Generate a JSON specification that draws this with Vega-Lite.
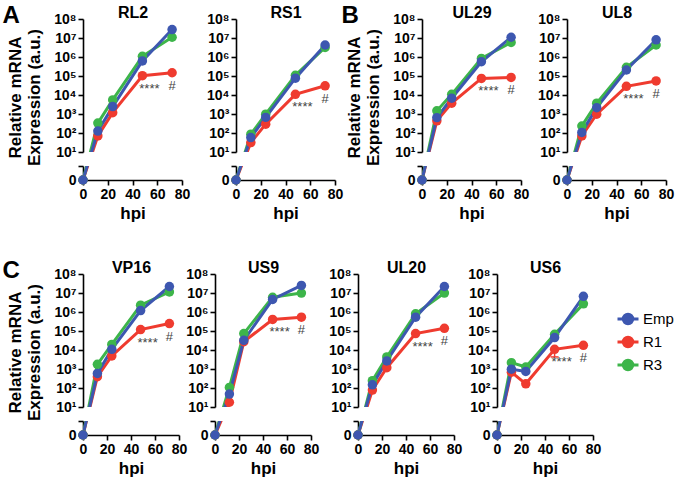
{
  "$schema": "https://vega.github.io/schema/vega-lite/v6.json",
  "padding": {"left": 2, "top": 4, "right": 2, "bottom": 2},
  "config": {
    "font": "Liberation Sans, Arial, sans-serif",
    "view": {"stroke": null},
    "axis": {"labelFontWeight": "bold", "labelFontSize": 14, "labelColor": "#000", "titleFontWeight": "bold", "titleFontSize": 17, "titleColor": "#000", "domainColor": "#000", "domainWidth": 1.6, "tickColor": "#000", "tickWidth": 1.6, "tickSize": 5, "labelPadding": 2, "grid": false, "labelFlush": false, "labelOverlap": false},
    "title": {"fontSize": 24, "fontWeight": "bold", "color": "#000"}
  },
  "resolve": {"legend": {"color": "independent"}},
  "datasets": {
    "d": [
      {"g":"RL2","s":"R1","h":0,"v":0},{"g":"RL2","s":"R1","h":12,"v":72},{"g":"RL2","s":"R1","h":24,"v":1200},{"g":"RL2","s":"R1","h":48,"v":105000,"sig":"****"},{"g":"RL2","s":"R1","h":72,"v":150000,"sig":"#"},
      {"g":"RL2","s":"R3","h":0,"v":0},{"g":"RL2","s":"R3","h":12,"v":340},{"g":"RL2","s":"R3","h":24,"v":5600},{"g":"RL2","s":"R3","h":48,"v":1100000},{"g":"RL2","s":"R3","h":72,"v":11000000},
      {"g":"RL2","s":"Emp","h":0,"v":0},{"g":"RL2","s":"Emp","h":12,"v":130},{"g":"RL2","s":"Emp","h":24,"v":2500},{"g":"RL2","s":"Emp","h":48,"v":630000},{"g":"RL2","s":"Emp","h":72,"v":28000000},
      {"g":"RS1","s":"R1","h":0,"v":0},{"g":"RS1","s":"R1","h":12,"v":32},{"g":"RS1","s":"R1","h":24,"v":300},{"g":"RS1","s":"R1","h":48,"v":11000,"sig":"****"},{"g":"RS1","s":"R1","h":72,"v":31000,"sig":"#"},
      {"g":"RS1","s":"R3","h":0,"v":0},{"g":"RS1","s":"R3","h":12,"v":89},{"g":"RS1","s":"R3","h":24,"v":1000},{"g":"RS1","s":"R3","h":48,"v":110000},{"g":"RS1","s":"R3","h":72,"v":3200000},
      {"g":"RS1","s":"Emp","h":0,"v":0},{"g":"RS1","s":"Emp","h":12,"v":59},{"g":"RS1","s":"Emp","h":24,"v":680},{"g":"RS1","s":"Emp","h":48,"v":78000},{"g":"RS1","s":"Emp","h":72,"v":4300000},
      {"g":"UL29","s":"R1","h":0,"v":0},{"g":"UL29","s":"R1","h":12,"v":450},{"g":"UL29","s":"R1","h":24,"v":3800},{"g":"UL29","s":"R1","h":48,"v":76000,"sig":"****"},{"g":"UL29","s":"R1","h":72,"v":85000,"sig":"#"},
      {"g":"UL29","s":"R3","h":0,"v":0},{"g":"UL29","s":"R3","h":12,"v":1500},{"g":"UL29","s":"R3","h":24,"v":11000},{"g":"UL29","s":"R3","h":48,"v":850000},{"g":"UL29","s":"R3","h":72,"v":5900000},
      {"g":"UL29","s":"Emp","h":0,"v":0},{"g":"UL29","s":"Emp","h":12,"v":660},{"g":"UL29","s":"Emp","h":24,"v":6900},{"g":"UL29","s":"Emp","h":48,"v":570000},{"g":"UL29","s":"Emp","h":72,"v":11000000},
      {"g":"UL8","s":"R1","h":0,"v":0},{"g":"UL8","s":"R1","h":12,"v":72},{"g":"UL8","s":"R1","h":24,"v":1000},{"g":"UL8","s":"R1","h":48,"v":29000,"sig":"****"},{"g":"UL8","s":"R1","h":72,"v":56000,"sig":"#"},
      {"g":"UL8","s":"R3","h":0,"v":0},{"g":"UL8","s":"R3","h":12,"v":240},{"g":"UL8","s":"R3","h":24,"v":3800},{"g":"UL8","s":"R3","h":48,"v":290000},{"g":"UL8","s":"R3","h":72,"v":4300000},
      {"g":"UL8","s":"Emp","h":0,"v":0},{"g":"UL8","s":"Emp","h":12,"v":110},{"g":"UL8","s":"Emp","h":24,"v":2200},{"g":"UL8","s":"Emp","h":48,"v":210000},{"g":"UL8","s":"Emp","h":72,"v":8100000},
      {"g":"VP16","s":"R1","h":0,"v":0},{"g":"VP16","s":"R1","h":12,"v":400},{"g":"VP16","s":"R1","h":24,"v":5000},{"g":"VP16","s":"R1","h":48,"v":120000,"sig":"****"},{"g":"VP16","s":"R1","h":72,"v":250000,"sig":"#"},
      {"g":"VP16","s":"R3","h":0,"v":0},{"g":"VP16","s":"R3","h":12,"v":1800},{"g":"VP16","s":"R3","h":24,"v":20000},{"g":"VP16","s":"R3","h":48,"v":2300000},{"g":"VP16","s":"R3","h":72,"v":11500000},
      {"g":"VP16","s":"Emp","h":0,"v":0},{"g":"VP16","s":"Emp","h":12,"v":600},{"g":"VP16","s":"Emp","h":24,"v":11000},{"g":"VP16","s":"Emp","h":48,"v":1200000},{"g":"VP16","s":"Emp","h":72,"v":22000000},
      {"g":"US9","s":"R1","h":0,"v":0},{"g":"US9","s":"R1","h":12,"v":18},{"g":"US9","s":"R1","h":24,"v":28000},{"g":"US9","s":"R1","h":48,"v":410000,"sig":"****"},{"g":"US9","s":"R1","h":72,"v":540000,"sig":"#"},
      {"g":"US9","s":"R3","h":0,"v":0},{"g":"US9","s":"R3","h":12,"v":110},{"g":"US9","s":"R3","h":24,"v":74000},{"g":"US9","s":"R3","h":48,"v":6000000},{"g":"US9","s":"R3","h":72,"v":10000000},
      {"g":"US9","s":"Emp","h":0,"v":0},{"g":"US9","s":"Emp","h":12,"v":49},{"g":"US9","s":"Emp","h":24,"v":33000},{"g":"US9","s":"Emp","h":48,"v":4600000},{"g":"US9","s":"Emp","h":72,"v":25000000},
      {"g":"UL20","s":"R1","h":0,"v":0},{"g":"UL20","s":"R1","h":12,"v":80},{"g":"UL20","s":"R1","h":24,"v":1200},{"g":"UL20","s":"R1","h":48,"v":74000,"sig":"****"},{"g":"UL20","s":"R1","h":72,"v":140000,"sig":"#"},
      {"g":"UL20","s":"R3","h":0,"v":0},{"g":"UL20","s":"R3","h":12,"v":250},{"g":"UL20","s":"R3","h":24,"v":4400},{"g":"UL20","s":"R3","h":48,"v":810000},{"g":"UL20","s":"R3","h":72,"v":10000000},
      {"g":"UL20","s":"Emp","h":0,"v":0},{"g":"UL20","s":"Emp","h":12,"v":150},{"g":"UL20","s":"Emp","h":24,"v":2700},{"g":"UL20","s":"Emp","h":48,"v":540000},{"g":"UL20","s":"Emp","h":72,"v":22000000},
      {"g":"US6","s":"R1","h":0,"v":0},{"g":"US6","s":"R1","h":12,"v":700},{"g":"US6","s":"R1","h":24,"v":170},{"g":"US6","s":"R1","h":48,"v":11000,"sig":"****","lo":4400},{"g":"US6","s":"R1","h":72,"v":18000,"sig":"#"},
      {"g":"US6","s":"R3","h":0,"v":0},{"g":"US6","s":"R3","h":12,"v":2200},{"g":"US6","s":"R3","h":24,"v":1300},{"g":"US6","s":"R3","h":48,"v":68000},{"g":"US6","s":"R3","h":72,"v":2700000},
      {"g":"US6","s":"Emp","h":0,"v":0},{"g":"US6","s":"Emp","h":12,"v":1000},{"g":"US6","s":"Emp","h":24,"v":760},{"g":"US6","s":"Emp","h":48,"v":46000},{"g":"US6","s":"Emp","h":72,"v":6700000}
    ]
  },
  "vconcat": [
    {
      "spacing": -2,
      "hconcat": [
        {
          "spacing": 16,
          "hconcat": [
            {"bounds": "flush", "spacing": 14, "vconcat": [
              {"width": 99, "height": 133, "title": {"text": "A", "anchor": "start", "frame": "bounds", "offset": -17, "dx": -4, "dy": 26, "baseline": "alphabetic"}, "data": {"name": "d"}, "transform": [{"filter": "datum.g === 'RL2'"}],
               "encoding": {"x": {"field": "h", "type": "quantitative", "scale": {"domain": [0, 80], "nice": false}, "axis": {"orient": "top", "domain": false, "ticks": false, "labels": false, "title": "RL2", "titleFontSize": 16, "titleY": -2, "titleBaseline": "alphabetic", "titlePadding": 0}},
                 "y": {"field": "v", "type": "quantitative", "scale": {"type": "symlog", "constant": 0.33, "domain": [10, 100000000], "nice": false}, "axis": {"values": [10,100,1000,10000,100000,1000000,10000000,100000000], "labelExpr": "'10' + ['¹','²','³','⁴','⁵','⁶','⁷','⁸'][round(log(datum.value)/LN10) - 1]", "title": ["Relative mRNA", "Expression (a.u.)"], "titleFontSize": 17, "titleLineHeight": 19, "titleY": 78, "titlePadding": 10}},
                 "color": {"field": "s", "type": "nominal", "scale": {"domain": ["Emp", "R1", "R3"], "range": ["#3d57b0", "#ef3b2f", "#3db54a"]}, "legend": null}},
               "layer": [
                 {"mark": {"type": "line", "strokeWidth": 3, "clip": true}},
                 {"transform": [{"filter": "datum.h > 0"}], "mark": {"type": "circle", "size": 90, "opacity": 1}},
                 {"transform": [{"filter": "datum.sig === '****'"}], "mark": {"type": "text", "dx": 7, "dy": 13, "fontSize": 13}, "encoding": {"text": {"field": "sig"}, "color": {"value": "#444"}}},
                 {"transform": [{"filter": "datum.sig === '#'"}], "mark": {"type": "text", "dy": 13, "fontSize": 13}, "encoding": {"text": {"field": "sig"}, "color": {"value": "#444"}}}
               ]},
              {"width": 99, "height": 14, "data": {"name": "d"}, "transform": [{"filter": "datum.g === 'RL2'"}],
               "encoding": {"x": {"field": "h", "type": "quantitative", "scale": {"domain": [0, 80], "nice": false}, "axis": {"values": [0,20,40,60,80], "title": "hpi"}},
                 "y": {"field": "v", "type": "quantitative", "scale": {"type": "symlog", "constant": 0.33, "domain": [0, 1.46], "nice": false}, "axis": {"values": [0, 1.46], "labelExpr": "datum.value === 0 ? '0' : ''", "title": null}},
                 "color": {"field": "s", "type": "nominal", "scale": {"domain": ["Emp", "R1", "R3"], "range": ["#3d57b0", "#ef3b2f", "#3db54a"]}, "legend": null}},
               "layer": [
                 {"mark": {"type": "line", "strokeWidth": 3, "clip": true}},
                 {"transform": [{"filter": "datum.h === 0"}], "mark": {"type": "circle", "size": 90, "opacity": 1}}
               ]}
            ]},
            {"bounds": "flush", "spacing": 14, "vconcat": [
              {"width": 99, "height": 133, "data": {"name": "d"}, "transform": [{"filter": "datum.g === 'RS1'"}],
               "encoding": {"x": {"field": "h", "type": "quantitative", "scale": {"domain": [0, 80], "nice": false}, "axis": {"orient": "top", "domain": false, "ticks": false, "labels": false, "title": "RS1", "titleFontSize": 16, "titleY": -2, "titleBaseline": "alphabetic", "titlePadding": 0}},
                 "y": {"field": "v", "type": "quantitative", "scale": {"type": "symlog", "constant": 0.33, "domain": [10, 100000000], "nice": false}, "axis": {"values": [10,100,1000,10000,100000,1000000,10000000,100000000], "labelExpr": "'10' + ['¹','²','³','⁴','⁵','⁶','⁷','⁸'][round(log(datum.value)/LN10) - 1]", "title": null}},
                 "color": {"field": "s", "type": "nominal", "scale": {"domain": ["Emp", "R1", "R3"], "range": ["#3d57b0", "#ef3b2f", "#3db54a"]}, "legend": null}},
               "layer": [
                 {"mark": {"type": "line", "strokeWidth": 3, "clip": true}},
                 {"transform": [{"filter": "datum.h > 0"}], "mark": {"type": "circle", "size": 90, "opacity": 1}},
                 {"transform": [{"filter": "datum.sig === '****'"}], "mark": {"type": "text", "dx": 7, "dy": 13, "fontSize": 13}, "encoding": {"text": {"field": "sig"}, "color": {"value": "#444"}}},
                 {"transform": [{"filter": "datum.sig === '#'"}], "mark": {"type": "text", "dy": 13, "fontSize": 13}, "encoding": {"text": {"field": "sig"}, "color": {"value": "#444"}}}
               ]},
              {"width": 99, "height": 14, "data": {"name": "d"}, "transform": [{"filter": "datum.g === 'RS1'"}],
               "encoding": {"x": {"field": "h", "type": "quantitative", "scale": {"domain": [0, 80], "nice": false}, "axis": {"values": [0,20,40,60,80], "title": "hpi"}},
                 "y": {"field": "v", "type": "quantitative", "scale": {"type": "symlog", "constant": 0.33, "domain": [0, 1.46], "nice": false}, "axis": {"values": [0, 1.46], "labelExpr": "datum.value === 0 ? '0' : ''", "title": null}},
                 "color": {"field": "s", "type": "nominal", "scale": {"domain": ["Emp", "R1", "R3"], "range": ["#3d57b0", "#ef3b2f", "#3db54a"]}, "legend": null}},
               "layer": [
                 {"mark": {"type": "line", "strokeWidth": 3, "clip": true}},
                 {"transform": [{"filter": "datum.h === 0"}], "mark": {"type": "circle", "size": 90, "opacity": 1}}
               ]}
            ]}
          ]
        },
        {
          "spacing": 8,
          "hconcat": [
            {"bounds": "flush", "spacing": 14, "vconcat": [
              {"width": 99, "height": 133, "title": {"text": "B", "anchor": "start", "frame": "bounds", "offset": -17, "dx": -4, "dy": 26, "baseline": "alphabetic"}, "data": {"name": "d"}, "transform": [{"filter": "datum.g === 'UL29'"}],
               "encoding": {"x": {"field": "h", "type": "quantitative", "scale": {"domain": [0, 80], "nice": false}, "axis": {"orient": "top", "domain": false, "ticks": false, "labels": false, "title": "UL29", "titleFontSize": 16, "titleY": -2, "titleBaseline": "alphabetic", "titlePadding": 0}},
                 "y": {"field": "v", "type": "quantitative", "scale": {"type": "symlog", "constant": 0.33, "domain": [10, 100000000], "nice": false}, "axis": {"values": [10,100,1000,10000,100000,1000000,10000000,100000000], "labelExpr": "'10' + ['¹','²','³','⁴','⁵','⁶','⁷','⁸'][round(log(datum.value)/LN10) - 1]", "title": ["Relative mRNA", "Expression (a.u.)"], "titleFontSize": 17, "titleLineHeight": 19, "titleY": 78, "titlePadding": 10}},
                 "color": {"field": "s", "type": "nominal", "scale": {"domain": ["Emp", "R1", "R3"], "range": ["#3d57b0", "#ef3b2f", "#3db54a"]}, "legend": null}},
               "layer": [
                 {"mark": {"type": "line", "strokeWidth": 3, "clip": true}},
                 {"transform": [{"filter": "datum.h > 0"}], "mark": {"type": "circle", "size": 90, "opacity": 1}},
                 {"transform": [{"filter": "datum.sig === '****'"}], "mark": {"type": "text", "dx": 7, "dy": 13, "fontSize": 13}, "encoding": {"text": {"field": "sig"}, "color": {"value": "#444"}}},
                 {"transform": [{"filter": "datum.sig === '#'"}], "mark": {"type": "text", "dy": 13, "fontSize": 13}, "encoding": {"text": {"field": "sig"}, "color": {"value": "#444"}}}
               ]},
              {"width": 99, "height": 14, "data": {"name": "d"}, "transform": [{"filter": "datum.g === 'UL29'"}],
               "encoding": {"x": {"field": "h", "type": "quantitative", "scale": {"domain": [0, 80], "nice": false}, "axis": {"values": [0,20,40,60,80], "title": "hpi"}},
                 "y": {"field": "v", "type": "quantitative", "scale": {"type": "symlog", "constant": 0.33, "domain": [0, 1.46], "nice": false}, "axis": {"values": [0, 1.46], "labelExpr": "datum.value === 0 ? '0' : ''", "title": null}},
                 "color": {"field": "s", "type": "nominal", "scale": {"domain": ["Emp", "R1", "R3"], "range": ["#3d57b0", "#ef3b2f", "#3db54a"]}, "legend": null}},
               "layer": [
                 {"mark": {"type": "line", "strokeWidth": 3, "clip": true}},
                 {"transform": [{"filter": "datum.h === 0"}], "mark": {"type": "circle", "size": 90, "opacity": 1}}
               ]}
            ]},
            {"bounds": "flush", "spacing": 14, "vconcat": [
              {"width": 99, "height": 133, "data": {"name": "d"}, "transform": [{"filter": "datum.g === 'UL8'"}],
               "encoding": {"x": {"field": "h", "type": "quantitative", "scale": {"domain": [0, 80], "nice": false}, "axis": {"orient": "top", "domain": false, "ticks": false, "labels": false, "title": "UL8", "titleFontSize": 16, "titleY": -2, "titleBaseline": "alphabetic", "titlePadding": 0}},
                 "y": {"field": "v", "type": "quantitative", "scale": {"type": "symlog", "constant": 0.33, "domain": [10, 100000000], "nice": false}, "axis": {"values": [10,100,1000,10000,100000,1000000,10000000,100000000], "labelExpr": "'10' + ['¹','²','³','⁴','⁵','⁶','⁷','⁸'][round(log(datum.value)/LN10) - 1]", "title": null}},
                 "color": {"field": "s", "type": "nominal", "scale": {"domain": ["Emp", "R1", "R3"], "range": ["#3d57b0", "#ef3b2f", "#3db54a"]}, "legend": null}},
               "layer": [
                 {"mark": {"type": "line", "strokeWidth": 3, "clip": true}},
                 {"transform": [{"filter": "datum.h > 0"}], "mark": {"type": "circle", "size": 90, "opacity": 1}},
                 {"transform": [{"filter": "datum.sig === '****'"}], "mark": {"type": "text", "dx": 7, "dy": 13, "fontSize": 13}, "encoding": {"text": {"field": "sig"}, "color": {"value": "#444"}}},
                 {"transform": [{"filter": "datum.sig === '#'"}], "mark": {"type": "text", "dy": 13, "fontSize": 13}, "encoding": {"text": {"field": "sig"}, "color": {"value": "#444"}}}
               ]},
              {"width": 99, "height": 14, "data": {"name": "d"}, "transform": [{"filter": "datum.g === 'UL8'"}],
               "encoding": {"x": {"field": "h", "type": "quantitative", "scale": {"domain": [0, 80], "nice": false}, "axis": {"values": [0,20,40,60,80], "title": "hpi"}},
                 "y": {"field": "v", "type": "quantitative", "scale": {"type": "symlog", "constant": 0.33, "domain": [0, 1.46], "nice": false}, "axis": {"values": [0, 1.46], "labelExpr": "datum.value === 0 ? '0' : ''", "title": null}},
                 "color": {"field": "s", "type": "nominal", "scale": {"domain": ["Emp", "R1", "R3"], "range": ["#3d57b0", "#ef3b2f", "#3db54a"]}, "legend": null}},
               "layer": [
                 {"mark": {"type": "line", "strokeWidth": 3, "clip": true}},
                 {"transform": [{"filter": "datum.h === 0"}], "mark": {"type": "circle", "size": 90, "opacity": 1}}
               ]}
            ]}
          ]
        }
      ]
    },
    {
      "spacing": 9,
      "resolve": {"legend": {"color": "independent"}},
      "hconcat": [
        {"spacing": -2, "hconcat": [
          {"bounds": "flush", "spacing": 14, "vconcat": [
            {"width": 96, "height": 133, "title": {"text": "C", "anchor": "start", "frame": "bounds", "offset": -17, "dx": -4, "dy": 26, "baseline": "alphabetic"}, "data": {"name": "d"}, "transform": [{"filter": "datum.g === 'VP16'"}],
             "encoding": {"x": {"field": "h", "type": "quantitative", "scale": {"domain": [0, 80], "nice": false}, "axis": {"orient": "top", "domain": false, "ticks": false, "labels": false, "title": "VP16", "titleFontSize": 16, "titleY": -2, "titleBaseline": "alphabetic", "titlePadding": 0}},
               "y": {"field": "v", "type": "quantitative", "scale": {"type": "symlog", "constant": 0.33, "domain": [10, 100000000], "nice": false}, "axis": {"values": [10,100,1000,10000,100000,1000000,10000000,100000000], "labelExpr": "'10' + ['¹','²','³','⁴','⁵','⁶','⁷','⁸'][round(log(datum.value)/LN10) - 1]", "title": ["Relative mRNA", "Expression (a.u.)"], "titleFontSize": 17, "titleLineHeight": 19, "titleY": 78, "titlePadding": 10}},
               "color": {"field": "s", "type": "nominal", "scale": {"domain": ["Emp", "R1", "R3"], "range": ["#3d57b0", "#ef3b2f", "#3db54a"]}, "legend": null}},
             "layer": [
               {"mark": {"type": "line", "strokeWidth": 3, "clip": true}},
               {"transform": [{"filter": "datum.h > 0"}], "mark": {"type": "circle", "size": 90, "opacity": 1}},
               {"transform": [{"filter": "datum.sig === '****'"}], "mark": {"type": "text", "dx": 7, "dy": 13, "fontSize": 13}, "encoding": {"text": {"field": "sig"}, "color": {"value": "#444"}}},
               {"transform": [{"filter": "datum.sig === '#'"}], "mark": {"type": "text", "dy": 13, "fontSize": 13}, "encoding": {"text": {"field": "sig"}, "color": {"value": "#444"}}}
             ]},
            {"width": 96, "height": 14, "data": {"name": "d"}, "transform": [{"filter": "datum.g === 'VP16'"}],
             "encoding": {"x": {"field": "h", "type": "quantitative", "scale": {"domain": [0, 80], "nice": false}, "axis": {"values": [0,20,40,60,80], "title": "hpi"}},
               "y": {"field": "v", "type": "quantitative", "scale": {"type": "symlog", "constant": 0.33, "domain": [0, 1.46], "nice": false}, "axis": {"values": [0, 1.46], "labelExpr": "datum.value === 0 ? '0' : ''", "title": null}},
               "color": {"field": "s", "type": "nominal", "scale": {"domain": ["Emp", "R1", "R3"], "range": ["#3d57b0", "#ef3b2f", "#3db54a"]}, "legend": null}},
             "layer": [
               {"mark": {"type": "line", "strokeWidth": 3, "clip": true}},
               {"transform": [{"filter": "datum.h === 0"}], "mark": {"type": "circle", "size": 90, "opacity": 1}}
             ]}
          ]},
          {"bounds": "flush", "spacing": 14, "vconcat": [
            {"width": 96, "height": 133, "data": {"name": "d"}, "transform": [{"filter": "datum.g === 'US9'"}],
             "encoding": {"x": {"field": "h", "type": "quantitative", "scale": {"domain": [0, 80], "nice": false}, "axis": {"orient": "top", "domain": false, "ticks": false, "labels": false, "title": "US9", "titleFontSize": 16, "titleY": -2, "titleBaseline": "alphabetic", "titlePadding": 0}},
               "y": {"field": "v", "type": "quantitative", "scale": {"type": "symlog", "constant": 0.33, "domain": [10, 100000000], "nice": false}, "axis": {"values": [10,100,1000,10000,100000,1000000,10000000,100000000], "labelExpr": "'10' + ['¹','²','³','⁴','⁵','⁶','⁷','⁸'][round(log(datum.value)/LN10) - 1]", "title": null}},
               "color": {"field": "s", "type": "nominal", "scale": {"domain": ["Emp", "R1", "R3"], "range": ["#3d57b0", "#ef3b2f", "#3db54a"]}, "legend": null}},
             "layer": [
               {"mark": {"type": "line", "strokeWidth": 3, "clip": true}},
               {"transform": [{"filter": "datum.h > 0"}], "mark": {"type": "circle", "size": 90, "opacity": 1}},
               {"transform": [{"filter": "datum.sig === '****'"}], "mark": {"type": "text", "dx": 7, "dy": 13, "fontSize": 13}, "encoding": {"text": {"field": "sig"}, "color": {"value": "#444"}}},
               {"transform": [{"filter": "datum.sig === '#'"}], "mark": {"type": "text", "dy": 13, "fontSize": 13}, "encoding": {"text": {"field": "sig"}, "color": {"value": "#444"}}}
             ]},
            {"width": 96, "height": 14, "data": {"name": "d"}, "transform": [{"filter": "datum.g === 'US9'"}],
             "encoding": {"x": {"field": "h", "type": "quantitative", "scale": {"domain": [0, 80], "nice": false}, "axis": {"values": [0,20,40,60,80], "title": "hpi"}},
               "y": {"field": "v", "type": "quantitative", "scale": {"type": "symlog", "constant": 0.33, "domain": [0, 1.46], "nice": false}, "axis": {"values": [0, 1.46], "labelExpr": "datum.value === 0 ? '0' : ''", "title": null}},
               "color": {"field": "s", "type": "nominal", "scale": {"domain": ["Emp", "R1", "R3"], "range": ["#3d57b0", "#ef3b2f", "#3db54a"]}, "legend": null}},
             "layer": [
               {"mark": {"type": "line", "strokeWidth": 3, "clip": true}},
               {"transform": [{"filter": "datum.h === 0"}], "mark": {"type": "circle", "size": 90, "opacity": 1}}
             ]}
          ]}
        ]},
        {"spacing": 5, "resolve": {"legend": {"color": "independent"}}, "hconcat": [
          {"bounds": "flush", "spacing": 14, "vconcat": [
            {"width": 96, "height": 133, "data": {"name": "d"}, "transform": [{"filter": "datum.g === 'UL20'"}],
             "encoding": {"x": {"field": "h", "type": "quantitative", "scale": {"domain": [0, 80], "nice": false}, "axis": {"orient": "top", "domain": false, "ticks": false, "labels": false, "title": "UL20", "titleFontSize": 16, "titleY": -2, "titleBaseline": "alphabetic", "titlePadding": 0}},
               "y": {"field": "v", "type": "quantitative", "scale": {"type": "symlog", "constant": 0.33, "domain": [10, 100000000], "nice": false}, "axis": {"values": [10,100,1000,10000,100000,1000000,10000000,100000000], "labelExpr": "'10' + ['¹','²','³','⁴','⁵','⁶','⁷','⁸'][round(log(datum.value)/LN10) - 1]", "title": null}},
               "color": {"field": "s", "type": "nominal", "scale": {"domain": ["Emp", "R1", "R3"], "range": ["#3d57b0", "#ef3b2f", "#3db54a"]}, "legend": null}},
             "layer": [
               {"mark": {"type": "line", "strokeWidth": 3, "clip": true}},
               {"transform": [{"filter": "datum.h > 0"}], "mark": {"type": "circle", "size": 90, "opacity": 1}},
               {"transform": [{"filter": "datum.sig === '****'"}], "mark": {"type": "text", "dx": 7, "dy": 13, "fontSize": 13}, "encoding": {"text": {"field": "sig"}, "color": {"value": "#444"}}},
               {"transform": [{"filter": "datum.sig === '#'"}], "mark": {"type": "text", "dy": 13, "fontSize": 13}, "encoding": {"text": {"field": "sig"}, "color": {"value": "#444"}}}
             ]},
            {"width": 96, "height": 14, "data": {"name": "d"}, "transform": [{"filter": "datum.g === 'UL20'"}],
             "encoding": {"x": {"field": "h", "type": "quantitative", "scale": {"domain": [0, 80], "nice": false}, "axis": {"values": [0,20,40,60,80], "title": "hpi"}},
               "y": {"field": "v", "type": "quantitative", "scale": {"type": "symlog", "constant": 0.33, "domain": [0, 1.46], "nice": false}, "axis": {"values": [0, 1.46], "labelExpr": "datum.value === 0 ? '0' : ''", "title": null}},
               "color": {"field": "s", "type": "nominal", "scale": {"domain": ["Emp", "R1", "R3"], "range": ["#3d57b0", "#ef3b2f", "#3db54a"]}, "legend": null}},
             "layer": [
               {"mark": {"type": "line", "strokeWidth": 3, "clip": true}},
               {"transform": [{"filter": "datum.h === 0"}], "mark": {"type": "circle", "size": 90, "opacity": 1}}
             ]}
          ]},
          {"bounds": "flush", "spacing": 14, "resolve": {"legend": {"color": "independent"}}, "vconcat": [
            {"width": 96, "height": 133, "data": {"name": "d"}, "transform": [{"filter": "datum.g === 'US6'"}],
             "encoding": {"x": {"field": "h", "type": "quantitative", "scale": {"domain": [0, 80], "nice": false}, "axis": {"orient": "top", "domain": false, "ticks": false, "labels": false, "title": "US6", "titleFontSize": 16, "titleY": -2, "titleBaseline": "alphabetic", "titlePadding": 0}},
               "y": {"field": "v", "type": "quantitative", "scale": {"type": "symlog", "constant": 0.33, "domain": [10, 100000000], "nice": false}, "axis": {"values": [10,100,1000,10000,100000,1000000,10000000,100000000], "labelExpr": "'10' + ['¹','²','³','⁴','⁵','⁶','⁷','⁸'][round(log(datum.value)/LN10) - 1]", "title": null}},
               "color": {"field": "s", "type": "nominal", "scale": {"domain": ["Emp", "R1", "R3"], "range": ["#3d57b0", "#ef3b2f", "#3db54a"]},
                 "legend": {"title": null, "orient": "none", "legendX": 119, "legendY": 33, "symbolType": "M-1,0H1M-0.45,0A0.45,0.45,0,1,1,0.45,0A0.45,0.45,0,1,1,-0.45,0", "symbolSize": 441, "symbolStrokeWidth": 3, "symbolOpacity": 1, "labelFontSize": 15, "labelColor": "#000", "rowPadding": -1, "labelOffset": 3}}},
             "layer": [
               {"mark": {"type": "line", "strokeWidth": 3, "clip": true}},
               {"transform": [{"filter": "isValid(datum.lo)"}], "mark": {"type": "rule", "strokeWidth": 1.5, "opacity": 1}, "encoding": {"y2": {"field": "lo"}}},
               {"transform": [{"filter": "isValid(datum.lo)"}], "mark": {"type": "tick", "orient": "horizontal", "size": 8, "thickness": 1.5, "opacity": 1}, "encoding": {"y": {"field": "lo", "type": "quantitative"}}},
               {"transform": [{"filter": "datum.h > 0"}], "mark": {"type": "circle", "size": 90, "opacity": 1}},
               {"transform": [{"filter": "datum.sig === '****'"}], "mark": {"type": "text", "dx": 7, "dy": 13, "fontSize": 13}, "encoding": {"text": {"field": "sig"}, "color": {"value": "#444"}}},
               {"transform": [{"filter": "datum.sig === '#'"}], "mark": {"type": "text", "dy": 13, "fontSize": 13}, "encoding": {"text": {"field": "sig"}, "color": {"value": "#444"}}}
             ]},
            {"width": 96, "height": 14, "data": {"name": "d"}, "transform": [{"filter": "datum.g === 'US6'"}],
             "encoding": {"x": {"field": "h", "type": "quantitative", "scale": {"domain": [0, 80], "nice": false}, "axis": {"values": [0,20,40,60,80], "title": "hpi"}},
               "y": {"field": "v", "type": "quantitative", "scale": {"type": "symlog", "constant": 0.33, "domain": [0, 1.46], "nice": false}, "axis": {"values": [0, 1.46], "labelExpr": "datum.value === 0 ? '0' : ''", "title": null}},
               "color": {"field": "s", "type": "nominal", "scale": {"domain": ["Emp", "R1", "R3"], "range": ["#3d57b0", "#ef3b2f", "#3db54a"]}, "legend": null}},
             "layer": [
               {"mark": {"type": "line", "strokeWidth": 3, "clip": true}},
               {"transform": [{"filter": "datum.h === 0"}], "mark": {"type": "circle", "size": 90, "opacity": 1}}
             ]}
          ]}
        ]}
      ]
    }
  ],
  "spacing": 38
}
